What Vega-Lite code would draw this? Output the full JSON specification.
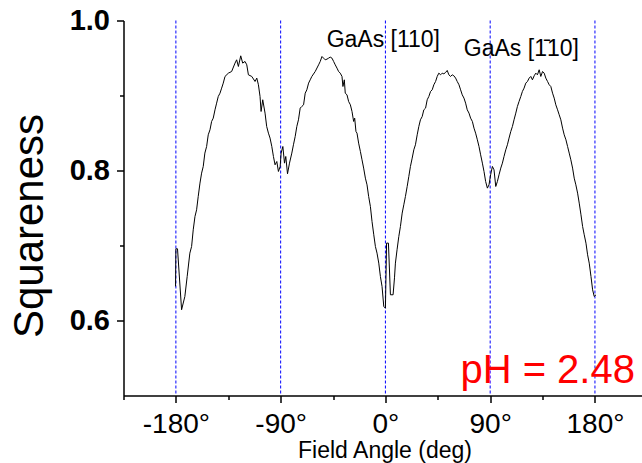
{
  "$schema": "https://vega.github.io/schema/vega-lite/v6.json",
  "width": 518,
  "height": 375,
  "autosize": "none",
  "padding": {"left": 123.5, "top": 20.5, "right": 0, "bottom": 67.5},
  "background": "white",
  "config": {"view": {"stroke": null}, "font": "Liberation Sans"},
  "datasets": {
    "curve": [
      {"angle":-180.3,"sq":0.6454},{"angle":-180.0,"sq":0.6956},{"angle":-178.6,"sq":0.6956},{"angle":-175.1,"sq":0.6143},{"angle":-172.3,"sq":0.6320},{"angle":-170.3,"sq":0.6587},{"angle":-168.0,"sq":0.6898},{"angle":-166.5,"sq":0.6987},{"angle":-165.1,"sq":0.7209},{"angle":-163.6,"sq":0.7387},{"angle":-162.2,"sq":0.7476},{"angle":-160.8,"sq":0.7654},{"angle":-159.3,"sq":0.7832},{"angle":-157.9,"sq":0.7965},{"angle":-156.5,"sq":0.8054},{"angle":-155.1,"sq":0.8232},{"angle":-153.6,"sq":0.8320},{"angle":-152.2,"sq":0.8476},{"angle":-150.7,"sq":0.8543},{"angle":-149.3,"sq":0.8654},{"angle":-147.9,"sq":0.8698},{"angle":-146.4,"sq":0.8809},{"angle":-145.0,"sq":0.8898},{"angle":-143.6,"sq":0.8987},{"angle":-142.1,"sq":0.9031},{"angle":-140.7,"sq":0.9098},{"angle":-139.3,"sq":0.9165},{"angle":-137.8,"sq":0.9254},{"angle":-134.9,"sq":0.9298},{"angle":-132.1,"sq":0.9320},{"angle":-129.2,"sq":0.9432},{"angle":-127.8,"sq":0.9476},{"angle":-126.3,"sq":0.9387},{"angle":-124.3,"sq":0.9529},{"angle":-122.6,"sq":0.9432},{"angle":-120.6,"sq":0.9454},{"angle":-119.1,"sq":0.9409},{"angle":-117.7,"sq":0.9276},{"angle":-114.8,"sq":0.9254},{"angle":-112.0,"sq":0.9187},{"angle":-110.5,"sq":0.9232},{"angle":-109.1,"sq":0.9143},{"angle":-107.7,"sq":0.8987},{"angle":-106.8,"sq":0.8787},{"angle":-105.4,"sq":0.8943},{"angle":-103.4,"sq":0.8765},{"angle":-102.0,"sq":0.8587},{"angle":-100.5,"sq":0.8498},{"angle":-99.1,"sq":0.8432},{"angle":-97.6,"sq":0.8320},{"angle":-96.2,"sq":0.8187},{"angle":-94.8,"sq":0.8076},{"angle":-93.3,"sq":0.8120},{"angle":-91.9,"sq":0.7987},{"angle":-90.4,"sq":0.8054},{"angle":-89.6,"sq":0.8232},{"angle":-88.1,"sq":0.8320},{"angle":-86.7,"sq":0.8098},{"angle":-85.6,"sq":0.8187},{"angle":-84.1,"sq":0.7956},{"angle":-82.4,"sq":0.8098},{"angle":-80.4,"sq":0.8232},{"angle":-79.0,"sq":0.8343},{"angle":-77.5,"sq":0.8454},{"angle":-76.1,"sq":0.8587},{"angle":-74.7,"sq":0.8676},{"angle":-73.2,"sq":0.8832},{"angle":-71.8,"sq":0.8854},{"angle":-70.3,"sq":0.8876},{"angle":-68.9,"sq":0.9031},{"angle":-67.5,"sq":0.9076},{"angle":-66.0,"sq":0.9165},{"angle":-64.6,"sq":0.9209},{"angle":-63.2,"sq":0.9254},{"angle":-60.3,"sq":0.9320},{"angle":-57.4,"sq":0.9409},{"angle":-56.0,"sq":0.9454},{"angle":-54.5,"sq":0.9520},{"angle":-53.1,"sq":0.9498},{"angle":-51.7,"sq":0.9476},{"angle":-50.2,"sq":0.9485},{"angle":-48.8,"sq":0.9498},{"angle":-47.4,"sq":0.9512},{"angle":-45.9,"sq":0.9498},{"angle":-44.5,"sq":0.9454},{"angle":-43.1,"sq":0.9409},{"angle":-41.6,"sq":0.9365},{"angle":-40.2,"sq":0.9320},{"angle":-38.8,"sq":0.9298},{"angle":-37.3,"sq":0.9254},{"angle":-36.5,"sq":0.9120},{"angle":-35.3,"sq":0.9209},{"angle":-34.5,"sq":0.9031},{"angle":-33.0,"sq":0.9009},{"angle":-31.6,"sq":0.8920},{"angle":-30.1,"sq":0.8876},{"angle":-28.7,"sq":0.8787},{"angle":-27.3,"sq":0.8654},{"angle":-26.4,"sq":0.8698},{"angle":-25.3,"sq":0.8520},{"angle":-24.4,"sq":0.8498},{"angle":-23.0,"sq":0.8365},{"angle":-21.5,"sq":0.8254},{"angle":-20.1,"sq":0.8143},{"angle":-18.7,"sq":0.8032},{"angle":-17.2,"sq":0.7898},{"angle":-15.8,"sq":0.7809},{"angle":-14.4,"sq":0.7654},{"angle":-12.9,"sq":0.7520},{"angle":-11.5,"sq":0.7320},{"angle":-10.0,"sq":0.7143},{"angle":-8.6,"sq":0.6987},{"angle":-7.2,"sq":0.6898},{"angle":-5.7,"sq":0.6765},{"angle":-4.3,"sq":0.6587},{"angle":-2.9,"sq":0.6454},{"angle":-1.4,"sq":0.6187},{"angle":0.0,"sq":0.6165},{"angle":1.0,"sq":0.7032},{"angle":2.6,"sq":0.7032},{"angle":4.3,"sq":0.6343},{"angle":6.6,"sq":0.6343},{"angle":7.8,"sq":0.6569},{"angle":8.6,"sq":0.6765},{"angle":10.0,"sq":0.6943},{"angle":11.5,"sq":0.7120},{"angle":12.9,"sq":0.7254},{"angle":14.4,"sq":0.7432},{"angle":15.8,"sq":0.7543},{"angle":17.2,"sq":0.7654},{"angle":18.7,"sq":0.7787},{"angle":20.1,"sq":0.7920},{"angle":21.5,"sq":0.8054},{"angle":23.0,"sq":0.8165},{"angle":24.4,"sq":0.8276},{"angle":25.8,"sq":0.8343},{"angle":27.3,"sq":0.8476},{"angle":28.7,"sq":0.8587},{"angle":30.1,"sq":0.8676},{"angle":31.6,"sq":0.8720},{"angle":33.0,"sq":0.8809},{"angle":34.5,"sq":0.8832},{"angle":35.9,"sq":0.8943},{"angle":37.3,"sq":0.8987},{"angle":38.8,"sq":0.9054},{"angle":40.2,"sq":0.9076},{"angle":41.6,"sq":0.9143},{"angle":43.1,"sq":0.9187},{"angle":44.5,"sq":0.9254},{"angle":45.9,"sq":0.9298},{"angle":47.4,"sq":0.9276},{"angle":48.8,"sq":0.9298},{"angle":50.2,"sq":0.9289},{"angle":51.7,"sq":0.9307},{"angle":53.1,"sq":0.9334},{"angle":54.5,"sq":0.9276},{"angle":56.0,"sq":0.9254},{"angle":57.4,"sq":0.9276},{"angle":58.8,"sq":0.9263},{"angle":60.3,"sq":0.9232},{"angle":61.7,"sq":0.9187},{"angle":63.2,"sq":0.9143},{"angle":64.6,"sq":0.9076},{"angle":66.0,"sq":0.9009},{"angle":67.5,"sq":0.8965},{"angle":68.9,"sq":0.8898},{"angle":70.3,"sq":0.8809},{"angle":71.8,"sq":0.8765},{"angle":73.2,"sq":0.8698},{"angle":74.7,"sq":0.8654},{"angle":76.1,"sq":0.8565},{"angle":77.5,"sq":0.8498},{"angle":79.0,"sq":0.8409},{"angle":80.4,"sq":0.8320},{"angle":81.8,"sq":0.8209},{"angle":83.3,"sq":0.8098},{"angle":84.7,"sq":0.7987},{"angle":86.1,"sq":0.7854},{"angle":87.6,"sq":0.7765},{"angle":89.0,"sq":0.7809},{"angle":90.4,"sq":0.7943},{"angle":91.9,"sq":0.8054},{"angle":93.3,"sq":0.8009},{"angle":94.8,"sq":0.7787},{"angle":96.2,"sq":0.7854},{"angle":97.6,"sq":0.7943},{"angle":99.1,"sq":0.8032},{"angle":100.5,"sq":0.8098},{"angle":101.9,"sq":0.8187},{"angle":103.4,"sq":0.8276},{"angle":104.8,"sq":0.8343},{"angle":106.2,"sq":0.8432},{"angle":107.7,"sq":0.8520},{"angle":109.1,"sq":0.8587},{"angle":110.5,"sq":0.8676},{"angle":112.0,"sq":0.8765},{"angle":113.4,"sq":0.8854},{"angle":114.8,"sq":0.8920},{"angle":116.3,"sq":0.8987},{"angle":117.7,"sq":0.9054},{"angle":119.1,"sq":0.9098},{"angle":120.6,"sq":0.9165},{"angle":122.0,"sq":0.9187},{"angle":123.5,"sq":0.9232},{"angle":124.9,"sq":0.9254},{"angle":126.3,"sq":0.9209},{"angle":127.8,"sq":0.9263},{"angle":129.2,"sq":0.9298},{"angle":130.6,"sq":0.9276},{"angle":132.1,"sq":0.9343},{"angle":133.5,"sq":0.9254},{"angle":135.0,"sq":0.9320},{"angle":136.4,"sq":0.9298},{"angle":137.8,"sq":0.9232},{"angle":139.3,"sq":0.9187},{"angle":140.7,"sq":0.9143},{"angle":142.1,"sq":0.9120},{"angle":143.6,"sq":0.9031},{"angle":145.0,"sq":0.8965},{"angle":146.4,"sq":0.8876},{"angle":147.9,"sq":0.8809},{"angle":149.3,"sq":0.8743},{"angle":150.7,"sq":0.8676},{"angle":152.2,"sq":0.8565},{"angle":153.6,"sq":0.8476},{"angle":155.1,"sq":0.8409},{"angle":156.5,"sq":0.8320},{"angle":157.9,"sq":0.8232},{"angle":159.3,"sq":0.8143},{"angle":160.8,"sq":0.8032},{"angle":162.2,"sq":0.7898},{"angle":163.6,"sq":0.7809},{"angle":165.1,"sq":0.7698},{"angle":166.5,"sq":0.7565},{"angle":168.0,"sq":0.7409},{"angle":169.4,"sq":0.7254},{"angle":170.8,"sq":0.7143},{"angle":172.3,"sq":0.7031},{"angle":173.7,"sq":0.6876},{"angle":175.1,"sq":0.6765},{"angle":176.6,"sq":0.6587},{"angle":178.0,"sq":0.6409},{"angle":179.4,"sq":0.6320},{"angle":180.9,"sq":0.6343}
    ],
    "guides": [{"angle":-180},{"angle":-90},{"angle":0},{"angle":90},{"angle":180}],
    "labels": [
      {"angle":-1.8,"sq":0.9653,"label":"GaAs [110]"},
      {"angle":116.8,"sq":0.9527,"label":"GaAs [1\u030410]"}
    ],
    "ph": [{"angle":214.4,"sq":0.5163,"label":"pH = 2.48"}]
  },
  "layer": [
    {
      "data": {"name": "guides"},
      "mark": {"type": "rule", "color": "#0000ff", "strokeWidth": 1, "strokeDash": [3, 2]},
      "encoding": {
        "x": {"field": "angle", "type": "quantitative", "scale": {"domain": [-225, 220], "nice": false, "zero": false}}
      }
    },
    {
      "mark": {"type": "rule", "color": "black", "strokeWidth": 1.5},
      "encoding": {"y": {"datum": 1.0, "type": "quantitative"}}
    },
    {
      "data": {"name": "curve"},
      "mark": {"type": "line", "color": "black", "strokeWidth": 1},
      "encoding": {
        "x": {
          "field": "angle", "type": "quantitative",
          "scale": {"domain": [-225, 220], "nice": false, "zero": false},
          "axis": {
            "title": "Field Angle (deg)",
            "values": [-225, -180, -135, -90, -45, 0, 45, 90, 135, 180],
            "labelExpr": "datum.value % 90 == 0 ? datum.value + '°' : ''",
            "labelFont": "Liberation Sans", "labelFontSize": 28, "labelColor": "black",
            "labelPadding": 8, "labelFlush": false, "labelOverlap": false,
            "tickSize": {"condition": {"test": "datum.value % 90 != 0", "value": 4}, "value": 7},
            "tickColor": "black", "tickWidth": 1.5,
            "domainColor": "black", "domainWidth": 1.5,
            "grid": false,
            "titleFont": "Liberation Sans", "titleFontSize": 23, "titleFontWeight": "normal", "titleColor": "black",
            "titleBaseline": "alphabetic", "titleY": 62, "titleX": 261
          }
        },
        "y": {
          "field": "sq", "type": "quantitative",
          "scale": {"domain": [0.5, 1.0], "nice": false, "zero": false},
          "axis": {
            "title": "Squareness",
            "values": [0.6, 0.7, 0.8, 0.9, 1.0],
            "labelExpr": "datum.value == 0.7 || datum.value == 0.9 ? '' : format(datum.value, '.1f')",
            "labelFont": "Liberation Sans", "labelFontSize": 29, "labelFontWeight": "bold", "labelColor": "black",
            "labelPadding": 7, "labelFlush": false, "labelOverlap": false,
            "tickSize": {"condition": {"test": "datum.value == 0.7 || datum.value == 0.9", "value": 4}, "value": 7},
            "tickColor": "black", "tickWidth": 1.5,
            "domainColor": "black", "domainWidth": 1.5,
            "grid": false,
            "titleFont": "Liberation Sans", "titleFontSize": 42, "titleFontWeight": "normal", "titleColor": "black",
            "titleX": -72, "titleY": 205
          }
        }
      }
    },
    {
      "data": {"name": "labels"},
      "mark": {"type": "text", "font": "Liberation Sans", "fontSize": 23, "color": "black", "align": "center", "baseline": "alphabetic"},
      "encoding": {
        "x": {"field": "angle", "type": "quantitative"},
        "y": {"field": "sq", "type": "quantitative"},
        "text": {"field": "label"}
      }
    },
    {
      "data": {"name": "ph"},
      "mark": {"type": "text", "font": "Liberation Sans", "fontSize": 40, "color": "#ff0000", "align": "right", "baseline": "alphabetic"},
      "encoding": {
        "x": {"field": "angle", "type": "quantitative"},
        "y": {"field": "sq", "type": "quantitative"},
        "text": {"field": "label"}
      }
    }
  ]
}
